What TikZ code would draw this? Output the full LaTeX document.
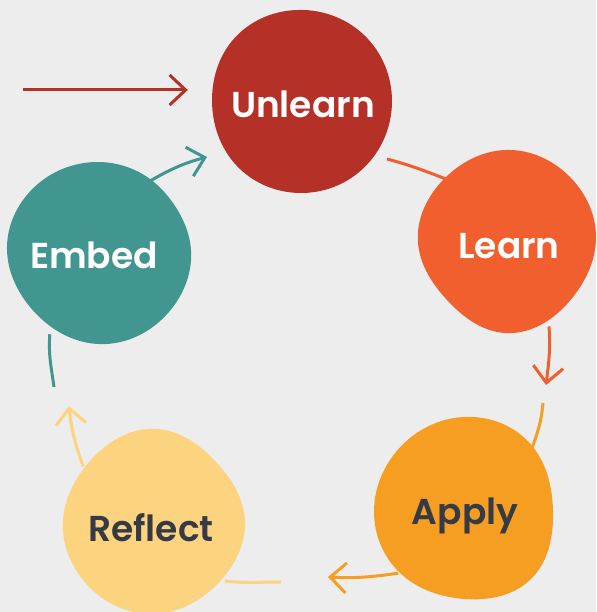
\documentclass[tikz,border=0pt]{standalone}
\usepackage{fontspec}
\setmainfont{Poppins}[BoldFont={Poppins SemiBold}]
\usepackage{tikz}
\usetikzlibrary{arrows.meta}
\usetikzlibrary{backgrounds}
\usetikzlibrary{hobby}
\definecolor{bgc}{HTML}{EDEDED}
\definecolor{unlearnc}{HTML}{B53127}
\definecolor{learnc}{HTML}{F15F2F}
\definecolor{applyc}{HTML}{F69E22}
\definecolor{reflectc}{HTML}{FCD37F}
\definecolor{embedc}{HTML}{419790}
\definecolor{darktext}{HTML}{353A45}
% name, text pos, blob offset, fill, text colour, label, blob points
\newcommand{\stage}[7]{ \fill[#4, shift={(#2)}, shift={(#3)}] plot[closed hobby] coordinates {#7};
  \node[stage, text=#5] (#1) at (#2) {#6};}

\begin{document}
\begin{tikzpicture}[x=1pt, y=1pt,
    stage/.style={shape=circle, draw=none, inner sep=0pt, minimum size=182pt,
      font=\fontsize{36}{40}\selectfont\bfseries, text height=28pt, text depth=0pt},
    flow/.style={line width=3pt, -{Straight Barb[length=16pt, width=30pt]}},
    tail/.style={line width=3pt}]
        \useasboundingbox (0,0) rectangle (596,612);
        \begin{scope}[on background layer]
        \fill[bgc] (0,0) rectangle (596,612);
        \end{scope}

        % blobs
        \stage{unlearn}{303,508.5}{-1,2.5}{unlearnc}{white}{Unlearn}
          {(2,91) (62,66) (90,0) (56,-72) (1,-92) (-66,-64) (-90,1) (-70,60)}
        \stage{learn}{509,367.5}{-2,3.5}{learnc}{white}{Learn}
          {(-1,91) (63,64) (89,3) (66,-56) (-2,-92) (-60,-59) (-89,-2) (-62,63)}
        \stage{apply}{465,101}{-1,3}{applyc}{darktext}{Apply}
          {(-1,91) (69,61) (89,-2) (66,-72) (1,-91) (-64,-65) (-90,-2) (-74,48)}
        \stage{reflect}{151,84.5}{3,6.5}{reflectc}{darktext}{Reflect}
          {(3,92) (63,58) (91,1) (68,-58) (0,-93) (-71,-59) (-91,1) (-69,54)}
        \stage{embed}{94,357.5}{5,1.5}{embedc}{white}{Embed}
          {(-2,91) (51,74) (74,50) (92,3) (74,-54) (-1,-91) (-69,-54) (-92,3) (-76,53)}

        % free ends
        \coordinate (entry) at (23,522);
        \coordinate (eu) at (207,455);
        \coordinate (ul) at (387,453);
        \coordinate (la) at (546,227);
        \coordinate (al) at (543,209);
        \coordinate (ar) at (328,35);
        \coordinate (ra) at (281,30);
        \coordinate (re) at (69,206);
        \coordinate (er) at (54,225);

        % cycle
        \begin{scope}[on background layer]
        \draw[flow, unlearnc, shorten >=24pt] (entry) -- (unlearn.west |- entry);
        \draw[flow, embedc] (embed.53) to[out=30, in=195] (eu);
        \draw[tail, learnc] (ul) to[out=-15, in=159] (learn.134);
        \draw[flow, learnc] (learn.-64) to[out=-86, in=83] (la);
        \draw[tail, applyc] (al) to[out=-95, in=70] (apply.43);
        \draw[flow, applyc] (apply.223) to[out=188, in=-3] (ar);
        \draw[tail, reflectc] (ra) to[out=180, in=-6] (reflect.-36);
        \draw[flow, reflectc] (reflect.138) to[out=110, in=-84] (re);
        \draw[tail, embedc] (er) to[out=98, in=-94] (embed.241);
        \end{scope}
    \end{tikzpicture}
\end{document}
